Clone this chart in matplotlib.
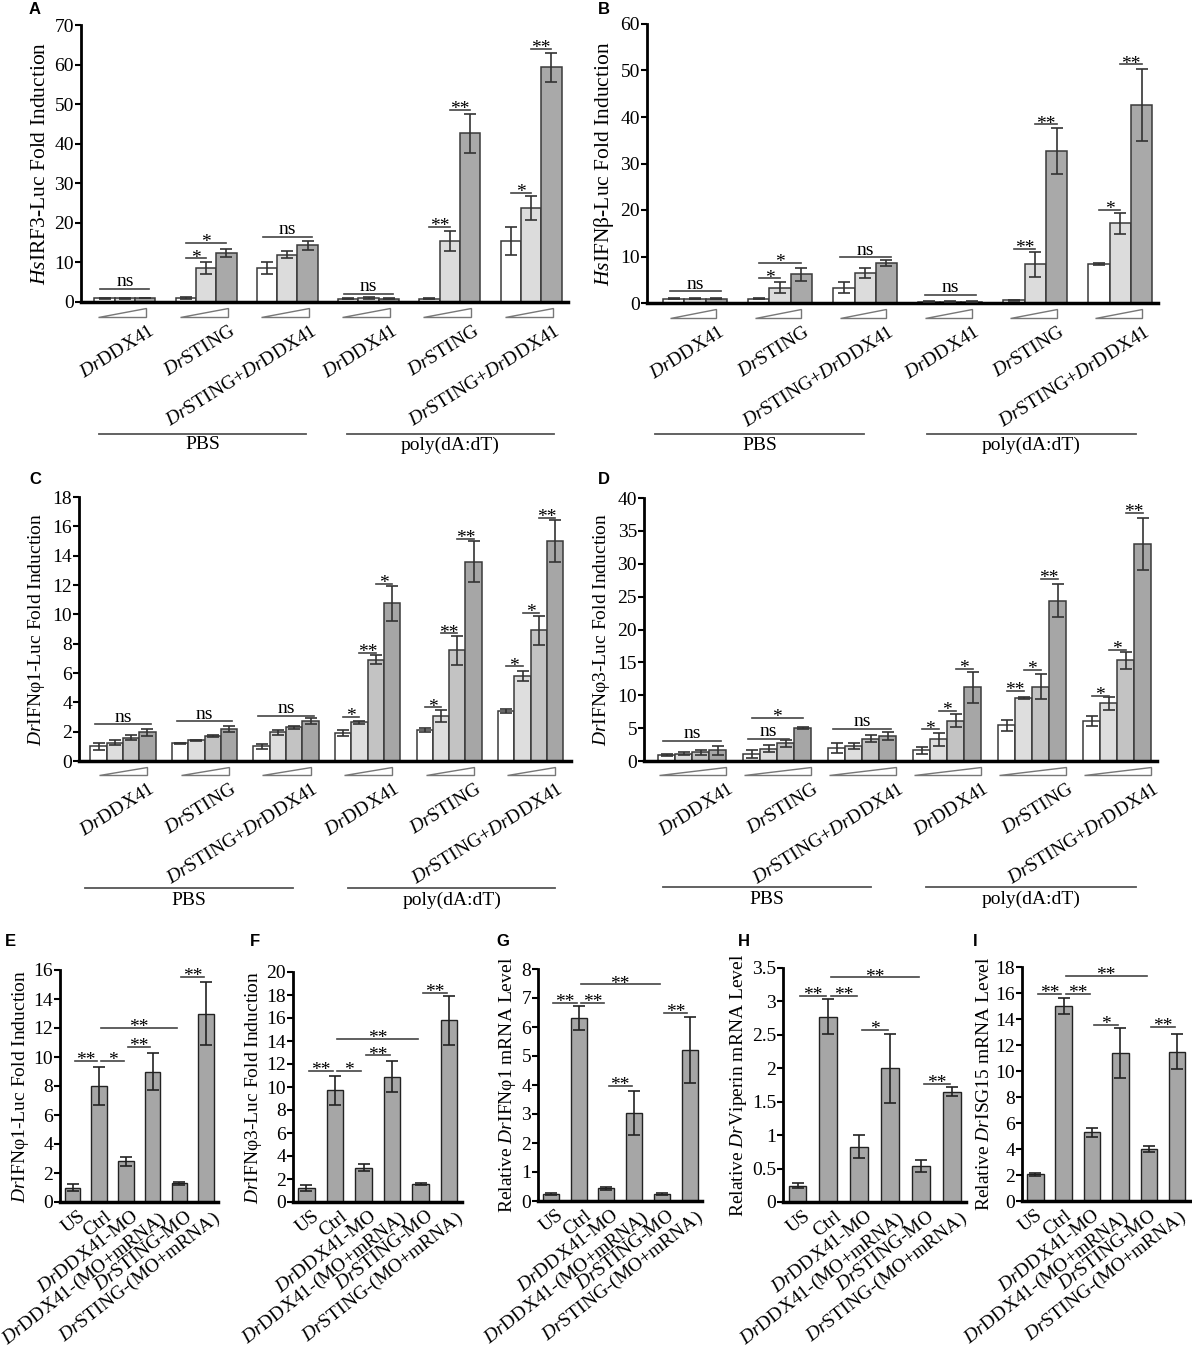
import matplotlib
matplotlib.use("Agg")
import matplotlib.pyplot as plt
from matplotlib.patches import Polygon
from matplotlib.ticker import FuncFormatter

plt.rcParams.update({
    "font.family": "Liberation Serif",
    "mathtext.fontset": "custom",
    "mathtext.rm": "Liberation Serif",
    "mathtext.it": "Liberation Serif:italic",
    "mathtext.bf": "Liberation Serif:bold",
})

# ---------------- data ----------------
top_groups = ["$Dr$DDX41", "$Dr$STING", "$Dr$STING+$Dr$DDX41"] * 2

# panel A: HsIRF3-Luc (3 doses)
a_mean = [[0.9, 0.9, 1.0], [1.0, 8.6, 12.3], [8.6, 11.9, 14.3],
          [0.8, 1.0, 0.8], [0.8, 15.4, 42.6], [15.4, 23.8, 59.3]]
a_err = [[0.1, 0.1, 0.1], [0.2, 1.5, 1.0], [1.5, 0.9, 1.1],
         [0.1, 0.2, 0.1], [0.1, 2.5, 5.0], [3.6, 3.0, 3.7]]
a_sig = [(0, 0, 2, 3.4, "ns"), (1, 0, 1, 11.0, "*"), (1, 0, 2, 15.0, "*"),
         (2, 0, 2, 16.5, "ns"), (3, 0, 2, 2.0, "ns"), (4, 0, 1, 19.0, "**"),
         (4, 1, 2, 48.5, "**"), (5, 0, 1, 27.5, "*"), (5, 1, 2, 64.0, "**")]

# panel B: HsIFNb-Luc
b_mean = [[0.9, 0.9, 0.9], [0.9, 3.3, 6.2], [3.3, 6.4, 8.6],
          [0.3, 0.3, 0.3], [0.6, 8.3, 32.7], [8.3, 17.1, 42.6]]
b_err = [[0.1, 0.1, 0.1], [0.1, 1.2, 1.4], [1.2, 1.1, 0.6],
         [0.1, 0.1, 0.1], [0.1, 2.7, 5.0], [0.2, 2.3, 7.7]]
b_sig = [(0, 0, 2, 2.5, "ns"), (1, 0, 1, 5.3, "*"), (1, 0, 2, 8.7, "*"),
         (2, 0, 2, 9.8, "ns"), (3, 0, 2, 1.8, "ns"), (4, 0, 1, 11.6, "**"),
         (4, 1, 2, 38.4, "**"), (5, 0, 1, 20.1, "*"), (5, 1, 2, 51.3, "**")]

# panel C: DrIFNphi1-Luc (4 doses)
c_mean = [[1.0, 1.25, 1.6, 1.95], [1.2, 1.4, 1.7, 2.2], [1.0, 1.95, 2.3, 2.7],
          [1.9, 2.65, 6.9, 10.75], [2.1, 3.05, 7.55, 13.6], [3.4, 5.8, 8.9, 15.0]]
c_err = [[0.25, 0.15, 0.2, 0.25], [0.05, 0.03, 0.07, 0.2], [0.15, 0.15, 0.1, 0.2],
         [0.2, 0.1, 0.3, 1.2], [0.15, 0.4, 1.0, 1.4], [0.15, 0.35, 1.0, 1.4]]
c_sig = [(0, 0, 3, 2.5, "ns"), (1, 0, 3, 2.7, "ns"), (2, 0, 3, 3.1, "ns"),
         (3, 0, 1, 3.0, "*"), (3, 1, 2, 7.35, "**"), (3, 2, 3, 12.1, "*"),
         (4, 0, 1, 3.65, "*"), (4, 1, 2, 8.7, "**"), (4, 2, 3, 15.15, "**"),
         (5, 0, 1, 6.45, "*"), (5, 1, 2, 10.1, "*"), (5, 2, 3, 16.6, "**")]

# panel D: DrIFNphi3-Luc
d_mean = [[0.9, 1.1, 1.3, 1.6], [1.1, 1.9, 2.7, 5.0], [2.0, 2.3, 3.4, 3.8],
          [1.6, 3.3, 6.1, 11.2], [5.4, 9.6, 11.3, 24.4], [6.1, 8.8, 15.3, 33.0]]
d_err = [[0.2, 0.2, 0.4, 0.7], [0.6, 0.5, 0.5, 0.2], [0.8, 0.5, 0.5, 0.6],
         [0.5, 1.0, 1.0, 2.4], [0.9, 0.15, 1.9, 2.5], [0.8, 1.0, 1.3, 3.9]]
d_sig = [(0, 0, 3, 3.05, "ns"), (1, 0, 2, 3.4, "ns"), (1, 0, 3, 6.6, "*"),
         (2, 0, 3, 4.9, "ns"), (3, 0, 1, 4.8, "*"), (3, 1, 2, 7.6, "*"),
         (3, 2, 3, 14.0, "*"), (4, 0, 1, 10.7, "**"), (4, 1, 2, 13.8, "*"),
         (4, 2, 3, 27.7, "**"), (5, 0, 1, 9.95, "*"), (5, 1, 2, 16.85, "*"),
         (5, 2, 3, 37.7, "**")]

bottom_labels = ["US", "Ctrl", "$Dr$DDX41-MO", "$Dr$DDX41-(MO+mRNA)",
                 "$Dr$STING-MO", "$Dr$STING-(MO+mRNA)"]

e_mean = [1.0, 8.0, 2.8, 9.0, 1.3, 13.0]
e_err = [0.25, 1.3, 0.3, 1.3, 0.1, 2.15]
e_sig = [(0, 1, 9.72, "**"), (1, 2, 9.72, "*"), (2, 3, 10.7, "**"),
         (1, 4, 12.0, "**"), (4, 5, 15.5, "**")]

f_mean = [1.25, 9.7, 3.0, 10.9, 1.6, 15.8]
f_err = [0.25, 1.3, 0.3, 1.35, 0.08, 2.15]
f_sig = [(0, 1, 11.4, "**"), (1, 2, 11.4, "*"), (2, 3, 12.75, "**"),
         (1, 4, 14.2, "**"), (4, 5, 18.2, "**")]

g_mean = [0.25, 6.3, 0.44, 3.05, 0.25, 5.2]
g_err = [0.04, 0.42, 0.05, 0.76, 0.04, 1.13]
g_sig = [(0, 1, 6.83, "**"), (1, 2, 6.83, "**"), (1, 4, 7.47, "**"),
         (2, 3, 3.96, "**"), (4, 5, 6.5, "**")]

h_mean = [0.245, 2.77, 0.83, 2.0, 0.54, 1.65]
h_err = [0.04, 0.26, 0.17, 0.52, 0.085, 0.07]
h_sig = [(0, 1, 3.08, "**"), (1, 2, 3.08, "**"), (1, 4, 3.36, "**"),
         (2, 3, 2.58, "*"), (4, 5, 1.77, "**")]

i_mean = [2.05, 15.0, 5.3, 11.4, 4.0, 11.5]
i_err = [0.1, 0.65, 0.35, 1.9, 0.2, 1.35]
i_sig = [(0, 1, 15.9, "**"), (1, 2, 15.9, "**"), (1, 4, 17.3, "**"),
         (2, 3, 13.55, "*"), (4, 5, 13.4, "**")]

# ---------------- layout ----------------
W, H = 1192, 1347
fig = plt.figure(figsize=(W / 100, H / 100), dpi=100)


def rect(l, r, t, b):
    return [l / W, 1 - b / H, (r - l) / W, (b - t) / H]


FS = 14


def style_axes(ax, ylim, ystep, ylabel, labelpad, lfs=FS):
    for s in ("top", "right"):
        ax.spines[s].set_visible(False)
    ax.spines["left"].set_linewidth(2.0)
    ax.spines["bottom"].set_linewidth(2.5)
    ax.set_ylim(*ylim)
    n = int(round(ylim[1] / ystep))
    ax.set_yticks([ystep * k for k in range(n + 1)])
    ax.yaxis.set_major_formatter(FuncFormatter(lambda v, p: "%g" % v))
    ax.tick_params(axis="y", direction="out", length=4, width=1.5,
                   labelsize=FS, pad=1)
    ax.tick_params(axis="x", length=0, labelbottom=False)
    ax.set_ylabel(ylabel, fontsize=lfs, labelpad=labelpad)


def sig_mark(ax, x0, x1, y, txt):
    ax.plot([x0, x1], [y, y], color="#444", lw=1.2, zorder=4, clip_on=False)
    if txt == "ns":
        ax.annotate(txt, ((x0 + x1) / 2, y), xytext=(0, 2),
                    textcoords="offset points", ha="center", va="baseline",
                    fontsize=14, annotation_clip=False)
    else:
        ax.annotate(txt, ((x0 + x1) / 2, y), xytext=(0, -3),
                    textcoords="offset points", ha="center", va="baseline",
                    fontsize=14, annotation_clip=False)


def top_panel(ax, means, errs, colors, xlim, wedge, sig, conds):
    n = len(means[0])
    tr = ax.get_xaxis_transform()
    for g, (m, e) in enumerate(zip(means, errs)):
        xs = [g * (n + 1) + j for j in range(n)]
        ax.bar(xs, m, width=1.0, color=colors, edgecolor="#3a3a3a",
               linewidth=1.1, zorder=2)
        ax.errorbar(xs, m, yerr=e, fmt="none", ecolor="#333",
                    elinewidth=1.2, capsize=4, capthick=1.2, zorder=3)
        left = g * (n + 1) - 0.5
        right = left + n
        wl, wr = left + wedge[0], right - wedge[1]
        ax.add_patch(Polygon([(wl, -0.054), (wr, -0.054), (wr, -0.022)],
                             closed=True, transform=tr, facecolor="white",
                             edgecolor="#777", lw=1.0, clip_on=False))
        ax.text(wr + 0.1, -0.075, top_groups[g], transform=tr, rotation=32,
                rotation_mode="anchor", ha="right", va="top", fontsize=14)
    for g, j1, j2, y, txt in sig:
        c1 = g * (n + 1) + j1
        c2 = g * (n + 1) + j2
        if txt == "ns":
            c1, c2 = c1 - 0.2, c2 + 0.2
        sig_mark(ax, c1, c2, y, txt)
    ax.set_xlim(*xlim)
    ly, ty = conds[0]
    for lab, (x0, x1) in zip(["PBS", "poly(dA:dT)"], conds[1:]):
        ax.plot([x0, x1], [ly, ly], transform=ax.transAxes, clip_on=False,
                color="#555", lw=1.3)
        ax.text((x0 + x1) / 2, ty, lab, transform=ax.transAxes,
                ha="center", va="center", fontsize=FS)


def bottom_panel(ax, means, errs, sig, loff=0.2):
    xs = list(range(len(means)))
    ax.bar(xs, means, width=0.58, color="#a6a6a6", edgecolor="#222",
           linewidth=1.0, zorder=2)
    ax.errorbar(xs, means, yerr=errs, fmt="none", ecolor="#222",
                elinewidth=1.2, capsize=4, capthick=1.2, zorder=3)
    tr = ax.get_xaxis_transform()
    for i, lab in zip(xs, bottom_labels):
        ax.text(i + loff, -0.025, lab, transform=tr, rotation=38,
                rotation_mode="anchor", ha="right", va="top", fontsize=FS)
    for i, j, y, txt in sig:
        sig_mark(ax, i + 0.08, j - 0.08, y, txt)
    ax.set_xlim(-0.47, 5.45)


col3 = ["white", "#dcdcdc", "#a9a9a9"]
col4 = ["white", "#dedede", "#c3c3c3", "#a6a6a6"]

axA = fig.add_axes(rect(81, 568, 25, 302))
style_axes(axA, (0, 70), 10, "$Hs$IRF3-Luc Fold Induction", 3, 15.5)
top_panel(axA, a_mean, a_err, col3, (-1.16, 22.82), (0.2, 0.44), a_sig,
          [(-0.477, -0.516), (0.037, 0.462), (0.546, 0.971)])

axB = fig.add_axes(rect(647, 1158, 24, 303))
style_axes(axB, (0, 60), 10, "$Hs$IFNβ-Luc Fold Induction", 3, 15.5)
top_panel(axB, b_mean, b_err, col3, (-1.26, 22.77), (0.3, 0.5), b_sig,
          [(-0.47, -0.51), (0.016, 0.425), (0.548, 0.957)])

axC = fig.add_axes(rect(79, 571, 497, 761))
style_axes(axC, (0, 18), 2, "$Dr$IFNφ1-Luc Fold Induction", 4)
top_panel(axC, c_mean, c_err, col4, (-1.2, 28.97), (0.55, 0.5), c_sig,
          [(-0.48, -0.527), (0.013, 0.435), (0.547, 0.968)])

axD = fig.add_axes(rect(644, 1157, 498, 761))
style_axes(axD, (0, 40), 5, "$Dr$IFNφ3-Luc Fold Induction", 4)
top_panel(axD, d_mean, d_err, col4, (-1.33, 28.84), (0.05, 0.0), d_sig,
          [(-0.48, -0.527), (0.037, 0.442), (0.55, 0.959)])

axE = fig.add_axes(rect(60, 218, 970, 1202))
style_axes(axE, (0, 16), 2, "$Dr$IFNφ1-Luc Fold Induction", 2)
bottom_panel(axE, e_mean, e_err, e_sig)

axF = fig.add_axes(rect(293, 462, 972, 1202))
style_axes(axF, (0, 20), 2, "$Dr$IFNφ3-Luc Fold Induction", 2)
bottom_panel(axF, f_mean, f_err, f_sig)

axG = fig.add_axes(rect(538, 702, 969, 1201))
style_axes(axG, (0, 8), 1, "Relative $Dr$IFNφ1 mRNA Level", 2)
bottom_panel(axG, g_mean, g_err, g_sig)

axH = fig.add_axes(rect(783, 966, 968, 1202))
style_axes(axH, (0, 3.5), 0.5, "Relative $Dr$Viperin mRNA Level", 2)
bottom_panel(axH, h_mean, h_err, h_sig)

axI = fig.add_axes(rect(1022, 1190, 967, 1201))
style_axes(axI, (0, 18), 2, "Relative $Dr$ISG15 mRNA Level", 2)
bottom_panel(axI, i_mean, i_err, i_sig, loff=0.0)

# panel letters
for lab, x, y in [("A", 29, 10), ("B", 598, 10), ("C", 29, 480), ("D", 598, 480),
                  ("E", 5, 942), ("F", 250, 942), ("G", 496, 942),
                  ("H", 738, 942), ("I", 973, 942)]:
    fig.text(x / W, 1 - y / H, lab, fontsize=12, fontweight="bold",
             family="Liberation Sans", ha="left", va="center")

fig.savefig("out.png", dpi=100)
